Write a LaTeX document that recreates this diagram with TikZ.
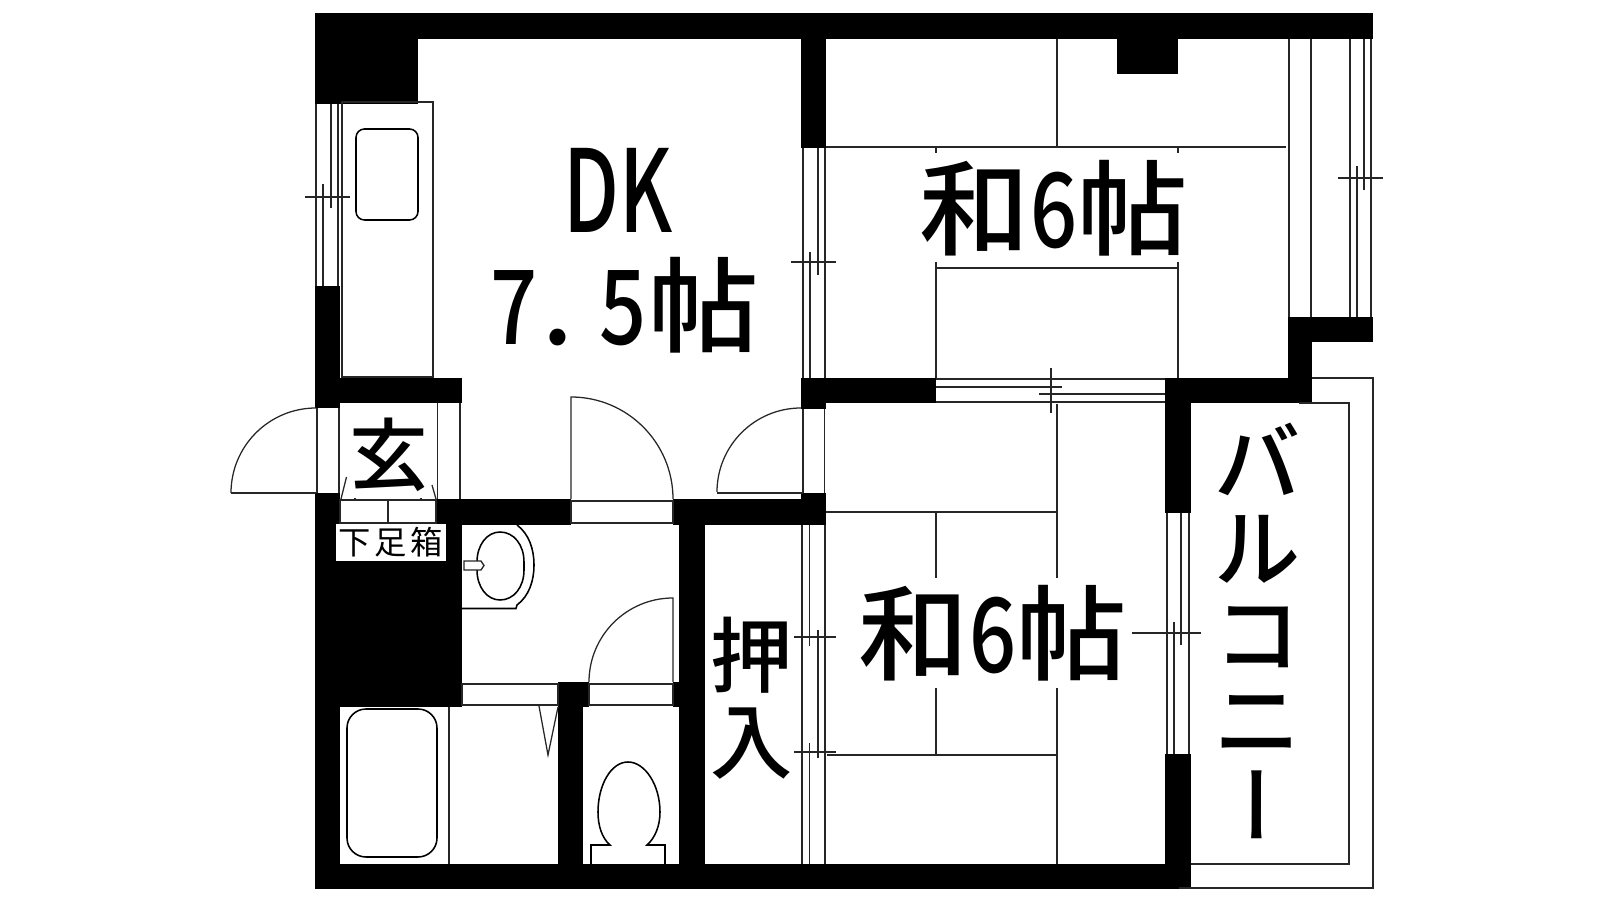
\documentclass[tikz,border=0pt]{standalone}
\usepackage{fontspec}
\newfontfamily\jpfont{Noto Sans CJK JP Medium}
\newfontfamily\jpthin{Noto Sans CJK JP}
\newfontfamily\jpvert[RawFeature=+vert]{Noto Sans CJK JP Medium}
\newcommand\narrowdigit[1]{\scalebox{.8}[1]{#1}}
\newcommand\widekanji[1]{\scalebox{1.07}[1]{#1}}

\tikzset{
  wall/.style={fill=black,draw=none},
  fine/.style={line width=0.36pt,black!85},
  fixture/.style={line width=0.44pt,black},
  roomlabel/.style={inner sep=0pt,font=\fontsize{29.4}{29.4}\selectfont\jpfont},
  midlabel/.style={inner sep=0pt,align=center,font=\fontsize{24.5}{24.5}\selectfont\jpfont},
}

\begin{document}
\begin{tikzpicture}[x=0.1mm,y=-0.1mm]
\useasboundingbox (0,0) rectangle (1600,900);

% walls
\fill[wall] (315,13) rectangle (1373,39);
\fill[wall] (315,13) rectangle (418,104);
\fill[wall] (801,39) rectangle (826,148);
\fill[wall] (1117,39) rectangle (1178,74);
\fill[wall] (315,286) rectangle (340,408);
\fill[wall] (315,378) rectangle (462,403);
\fill[wall] (801,378) rectangle (936,403);
\fill[wall] (801,403) rectangle (826,409);
\fill[wall] (1165,378) rectangle (1312,403);
\fill[wall] (1288,317) rectangle (1312,403);
\fill[wall] (1288,317) rectangle (1373,342);
\fill[wall] (1165,378) rectangle (1191,513);
\fill[wall] (1165,754) rectangle (1191,889);
\fill[wall] (315,493) rectangle (340,889);
\fill[wall] (315,864) rectangle (1191,889);
\fill[wall] (436,499) rectangle (571,525);
\fill[wall] (673,499) rectangle (826,525);
\fill[wall] (801,493) rectangle (826,499);
\fill[wall] (336,523) rectangle (462,707);
\fill[wall] (679,525) rectangle (705,864);
\fill[wall] (558,682) rectangle (589,707);
\fill[wall] (558,707) rectangle (583,864);
\fill[wall] (673,682) rectangle (679,707);

% kitchen
\draw[fine] (342,102) rectangle (433,377);
\draw[fixture,rounded corners=2.4pt] (356,129) rectangle (418,220);

% left window
\draw[fine] (316,104)--(316,286);
\draw[fine] (338,104)--(338,286);
\draw[fine] (323,184)--(323,286);
\draw[fine] (331,104)--(331,208);
\draw[fine] (305,197)--(350,197);

% windows beside the DK
\draw[fine] (803,148)--(803,378);
\draw[fine] (825,148)--(825,378);
\draw[fine] (810,252)--(810,378);
\draw[fine] (818,148)--(818,275);
\draw[fine] (791,262)--(836,262);

% upper tatami
\draw[fine] (826,147)--(1286,147);
\draw[fine] (1057,39)--(1057,147);
\draw[fine] (936,147)--(936,153);
\draw[fine] (1178,147)--(1178,153);
\draw[fine] (936,262)--(936,378);
\draw[fine] (1178,262)--(1178,378);
\draw[fine] (936,268)--(1178,268);

% right window
\draw[fine] (1289,39)--(1289,317);
\draw[fine] (1311,39)--(1311,317);
\draw[fine] (1350,39)--(1350,317);
\draw[fine] (1371,39)--(1371,317);
\draw[fine] (1357,166)--(1357,317);
\draw[fine] (1364,39)--(1364,190);
\draw[fine] (1338,178)--(1383,178);

% sliding doors between the rooms
\draw[fine] (936,379)--(1165,379);
\draw[fine] (936,402)--(1165,402);
\draw[fine] (936,387)--(1062,387);
\draw[fine] (1039,394)--(1165,394);
\draw[fine] (1051,368)--(1051,413);

% lower tatami
\draw[fine] (826,512)--(1057,512);
\draw[fine] (827,755)--(1057,755);
\draw[fine] (1057,404)--(1057,578);
\draw[fine] (1057,688)--(1057,864);
\draw[fine] (936,512)--(936,578);
\draw[fine] (936,688)--(936,755);

% window by the closet
\draw[fine] (803,409)--(803,493);
\draw[fine] (824.5,409)--(824.5,493);
\draw[fine] (802,525)--(802,864);
\draw[fine] (825,525)--(825,864);
\draw[fine] (809.5,525)--(809.5,646);
\draw[fine] (809.5,743)--(809.5,864);
\draw[fine] (818,630)--(818,758);
\draw[fine] (794,637)--(836,637);
\draw[fine] (794,752)--(836,752);

% balcony window
\draw[fine] (1167,513)--(1167,754);
\draw[fine] (1189,513)--(1189,754);
\draw[fine] (1174,622)--(1174,754);
\draw[fine] (1181,513)--(1181,645);
\draw[fine] (1132,633)--(1201,633);

% balcony
\draw[fine] (1312,378)--(1373,378)--(1373,888)--(1179,888);
\draw[fine] (1299,403)--(1349,403)--(1349,864)--(1191,864);

% doors
\draw[fine] (571,499)--(571,397) arc[start angle=-90,end angle=0,radius=102];
\draw[fine] (571,501) rectangle (673,523);
\draw[fine] (231,493)--(316,493);
\draw[fine] (316,408) arc[start angle=-90,end angle=-180,radius=85];
\draw[fine] (317,408)--(317,493);
\draw[fine] (339,408)--(339,493);
\draw[fine] (717,493)--(803,493);
\draw[fine] (801,408) arc[start angle=-90,end angle=-180,radius=84];
\draw[fine] (673,682)--(673,598) arc[start angle=-90,end angle=-180,radius=84];
\draw[fine] (589,684) rectangle (673,705);
\draw[fine] (462,684) rectangle (558,705);

% entrance
\draw[fine] (437.5,403)--(437.5,499);
\draw[fine] (460,403)--(460,499);
\fill[white] (340,500) rectangle (436,523);
\draw[fine] (340,500) rectangle (436,523);
\draw[fine] (388,500)--(388,523);
\draw[fine] (346.5,477)--(341,499);
\draw[fine] (432,485)--(436,499);
\draw[fine] (355,498)--(355,500);
\draw[fine] (421,498)--(421,500);

% washbasin
\draw[fixture] (462,608.5)--(516,608.5)--(517,605) .. controls (529,596) and (534,581) .. (534,565) .. controls (534,549) and (529,534) .. (517,525);
\draw[fixture] (500,532) .. controls (487,532) and (477,545) .. (477,562) -- (477,570) .. controls (477,587) and (487,600) .. (500,600) .. controls (514,600) and (524,587) .. (524,570) -- (524,562) .. controls (524,545) and (514,532) .. (500,532) -- cycle;
\draw[fine,fill=white] (477,561)--(464,561)--(464,570)--(481,570)--(484,565.5)--(481,561)--cycle;

% bath
\draw[fixture,rounded corners=5.4pt] (347,709) rectangle (437,857);
\draw[fine] (449,707)--(449,864);
\draw[fine] (539,706)--(548,755)--(558,707);

% toilet
\draw[fixture] (591,864)--(591,845)--(610,845) .. controls (602,838) and (598,826) .. (598,812) .. controls (598,785) and (611,762) .. (628,762) .. controls (645,762) and (660,785) .. (660,812) .. controls (660,826) and (655,838) .. (647,845)--(665,845)--(665,864);

% labels
\node[roomlabel] (dk) at (618,190) {\fontsize{32.5}{32.5}\selectfont\scalebox{.7}[1]{DK}};
\node[roomlabel] (dkmat) at (624,305) {\makebox[14.2pt]{\narrowdigit{7}}\makebox[17pt][l]{\kern1pt.}\makebox[14.2pt]{\narrowdigit{5}}\widekanji{帖}};
\node[roomlabel] (uproom) at (1054,208) {\widekanji{和}\narrowdigit{6}\widekanji{帖}};
\node[roomlabel] (lowroom) at (993,633) {\widekanji{和}\narrowdigit{6}\widekanji{帖}};
\node[midlabel,font=\fontsize{23.4}{24.5}\selectfont\jpfont] (closet) at (752,698) {押\\入};
\node[midlabel] (balcony) at (1258,631) {バ\\ル\\コ\\ニ\\{\jpvert ー}};
\node[roomlabel,font=\fontsize{22.4}{22.4}\selectfont\jpfont] (genkan) at (389,455) {玄};
\node[fill=white,inner sep=0pt,minimum width=11mm,minimum height=3.7mm,font=\fontsize{9.2}{9.2}\selectfont\jpthin] (shoebox) at (391,542.5) {下\kern1pt足\kern1pt箱};
\end{tikzpicture}
\end{document}
